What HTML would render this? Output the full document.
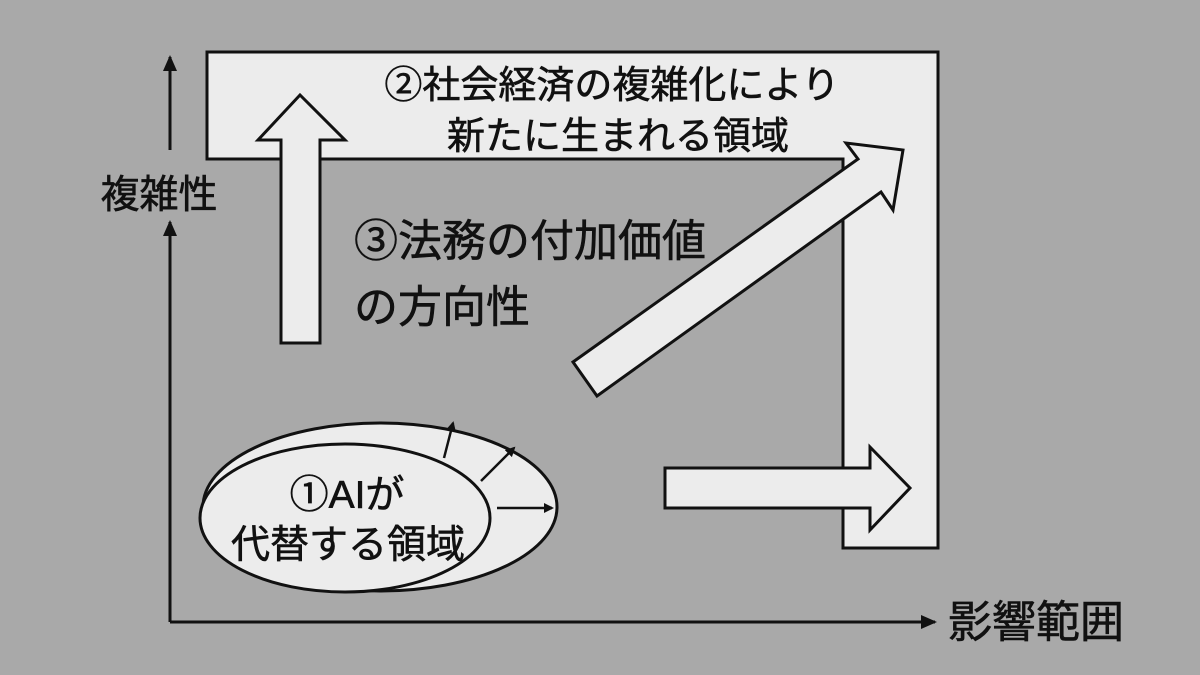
<!DOCTYPE html>
<html><head><meta charset="utf-8"><style>
body{margin:0;background:#a8a8a8;}
svg{display:block}
text{font-family:"Liberation Sans","Noto Sans CJK JP",sans-serif;fill:#111;stroke:#111;stroke-width:0.6;}
</style></head><body>
<svg width="1200" height="675" viewBox="0 0 1200 675" xmlns="http://www.w3.org/2000/svg">
<defs><marker id="ah" markerWidth="10" markerHeight="10" refX="8" refY="5" orient="auto" markerUnits="userSpaceOnUse"><path d="M0,0 L10,5 L0,10 z" fill="#111"/></marker>
<marker id="ah2" markerWidth="16" markerHeight="14" refX="14" refY="7" orient="auto" markerUnits="userSpaceOnUse"><path d="M0,0 L16,7 L0,14 z" fill="#111"/></marker></defs>
<rect width="1200" height="675" fill="#a9a9a9"/>
<polygon points="207,52 938,52 938,548 843,548 843,159 207,159" fill="#ececec" stroke="#111" stroke-width="3"/>
<line x1="170" y1="622" x2="170" y2="222" stroke="#111" stroke-width="3" marker-end="url(#ah2)"/>
<line x1="170" y1="150" x2="170" y2="57" stroke="#111" stroke-width="3" marker-end="url(#ah2)"/>
<line x1="170" y1="622" x2="935" y2="622" stroke="#111" stroke-width="3" marker-end="url(#ah2)"/>
<text x="159" y="208" font-size="39" text-anchor="middle">複雑性</text>
<text x="1036" y="637" font-size="44" text-anchor="middle">影響範囲</text>
<polygon points="281,343 320,343 320,140 345,140 300,95 258,140 281,140" fill="#ececec" stroke="#111" stroke-width="3"/>
<polygon points="573,362 597,396 881,192 893,210 903,150 846,143 858,159" fill="#ececec" stroke="#111" stroke-width="3"/>
<polygon points="665,468 870,468 870,447 910,488 870,530 870,508 665,508" fill="#ececec" stroke="#111" stroke-width="3"/>
<ellipse cx="380" cy="507" rx="177" ry="84" fill="#ececec" stroke="#111" stroke-width="3"/>
<ellipse cx="345" cy="518" rx="145" ry="74" fill="#ececec" stroke="#111" stroke-width="3"/>
<line x1="444" y1="458" x2="453" y2="423" stroke="#111" stroke-width="2.5" marker-end="url(#ah)"/>
<line x1="481" y1="481" x2="514" y2="448" stroke="#111" stroke-width="2.5" marker-end="url(#ah)"/>
<line x1="497" y1="508" x2="552" y2="508" stroke="#111" stroke-width="2.5" marker-end="url(#ah)"/>
<text x="612" y="98" font-size="38" text-anchor="middle">②社会経済の複雑化により</text>
<text x="618" y="149" font-size="38" text-anchor="middle">新たに生まれる領域</text>
<text x="354" y="256" font-size="44">③法務の付加価値</text>
<text x="354" y="322" font-size="44">の方向性</text>
<text x="347" y="508" font-size="39" text-anchor="middle">①AIが</text>
<text x="348" y="558" font-size="39" text-anchor="middle">代替する領域</text>
</svg>
</body></html>
